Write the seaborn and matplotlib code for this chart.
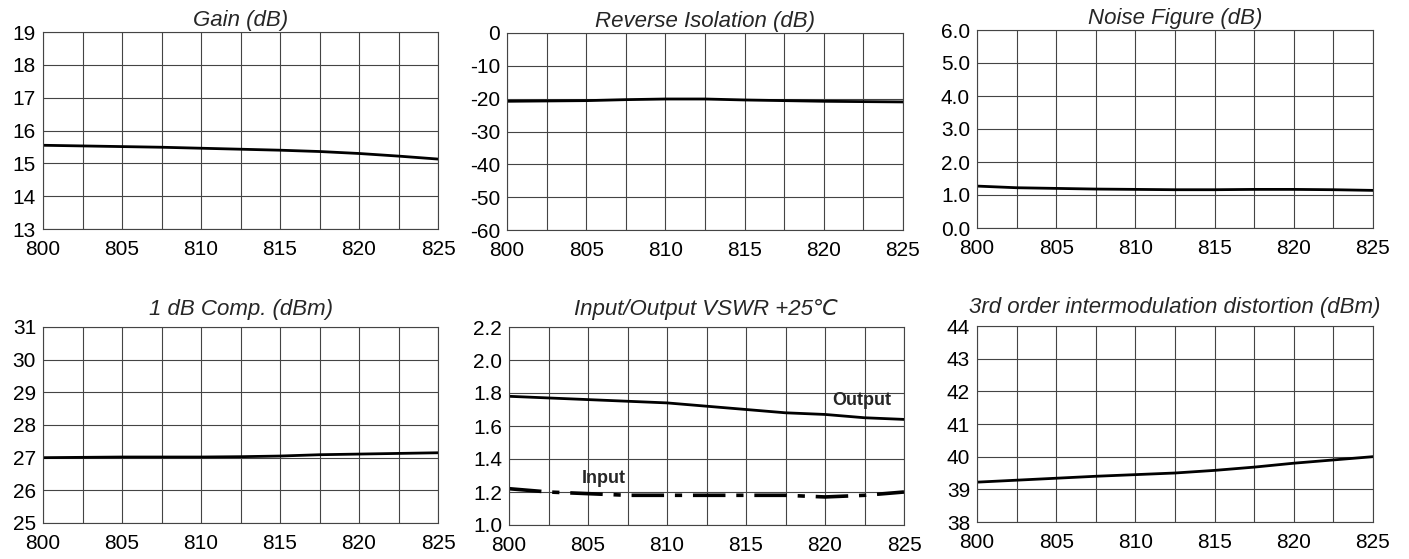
import numpy as np
import pandas as pd
import matplotlib
matplotlib.use("Agg")
import matplotlib.pyplot as plt
import seaborn as sns

# frequency points (MHz), one per grid division
freq = [800, 802.5, 805, 807.5, 810, 812.5, 815, 817.5, 820, 822.5, 825]

gain = [15.55, 15.53, 15.51, 15.49, 15.46, 15.43, 15.40, 15.36, 15.30, 15.22, 15.13]
rev_iso = [-20.8, -20.7, -20.6, -20.3, -20.1, -20.1, -20.4, -20.6, -20.8, -20.9, -21.0]
noise_fig = [1.27, 1.22, 1.20, 1.18, 1.17, 1.16, 1.16, 1.17, 1.17, 1.16, 1.14]
p1db = [27.0, 27.01, 27.02, 27.02, 27.02, 27.03, 27.05, 27.09, 27.11, 27.13, 27.15]
vswr_out = [1.78, 1.77, 1.76, 1.75, 1.74, 1.72, 1.70, 1.68, 1.67, 1.65, 1.64]
vswr_in = [1.22, 1.20, 1.19, 1.18, 1.18, 1.18, 1.18, 1.18, 1.17, 1.18, 1.20]
imd3 = [39.22, 39.28, 39.34, 39.40, 39.45, 39.50, 39.58, 39.68, 39.80, 39.90, 40.0]

x_ticks = [800, 805, 810, 815, 820, 825]

sns.set_theme(style="white")
plt.rcParams['font.family'] = ['Liberation Sans', 'DejaVu Sans']

fig = plt.figure(figsize=(14.09, 5.59), dpi=100)

W, H = 1409, 559
boxes = [
    (43, 32, 438, 229), (507, 33, 903, 230), (977, 30, 1373, 228),
    (43, 327, 438, 523), (509, 327, 904, 525), (977, 326, 1373, 522),
]
titles = ['Gain (dB)', 'Reverse Isolation (dB)', 'Noise Figure (dB)',
          '1 dB Comp. (dBm)', 'Input/Output VSWR +25\u2103',
          '3rd order intermodulation distortion (dBm)']
ylims = [(13, 19, 1, '{:.0f}'), (-60, 0, 10, '{:.0f}'), (0, 6, 1, '{:.1f}'),
         (25, 31, 1, '{:.0f}'), (1.0, 2.2, 0.2, '{:.1f}'), (38, 44, 1, '{:.0f}')]
series = [[gain], [rev_iso], [noise_fig], [p1db], [vswr_out, vswr_in], [imd3]]

axes = []
for k, (box, title, (lo, hi, step, fmt), ys) in enumerate(zip(boxes, titles, ylims, series)):
    l, t, r, b = box
    ax = fig.add_axes([l / W, (H - b) / H, (r - l) / W, (b - t) / H])
    axes.append(ax)
    for i, y in enumerate(ys):
        df = pd.DataFrame({'freq': freq, 'val': y})
        if i == 0:
            sns.lineplot(data=df, x='freq', y='val', ax=ax, color='black', lw=2.0)
        else:
            sns.lineplot(data=df, x='freq', y='val', ax=ax, color='black', lw=2.6,
                         dashes=False, linestyle=(0, (9, 3, 2, 3)))
    ax.set_xlim(800, 825)
    ax.set_ylim(lo, hi)
    ax.set_xticks(freq, minor=True)
    ax.set_xticks(x_ticks)
    yt = np.arange(lo, hi + step / 2, step)
    ax.set_yticks(yt)
    ax.set_yticklabels([fmt.format(v) for v in yt])
    ax.grid(True, which='both', axis='x', color='#444444', lw=0.8)
    ax.grid(True, which='major', axis='y', color='#444444', lw=0.8)
    ax.tick_params(axis='both', which='both', length=0, labelsize=15, colors='black')
    ax.tick_params(axis='x', pad=8)
    ax.tick_params(axis='y', pad=5)
    for sp in ax.spines.values():
        sp.set_color('#444444')
        sp.set_linewidth(0.8)
    ax.set_xlabel('')
    ax.set_ylabel('')
    ax.set_title(title, fontsize=16, style='italic', pad=4 if k < 3 else 9)

axes[4].text(822.3, 1.705, 'Output', fontsize=13, fontweight='bold', ha='center', va='bottom')
axes[4].text(806.0, 1.23, 'Input', fontsize=13, fontweight='bold', ha='center', va='bottom')

fig.savefig('out.png', dpi=100)
